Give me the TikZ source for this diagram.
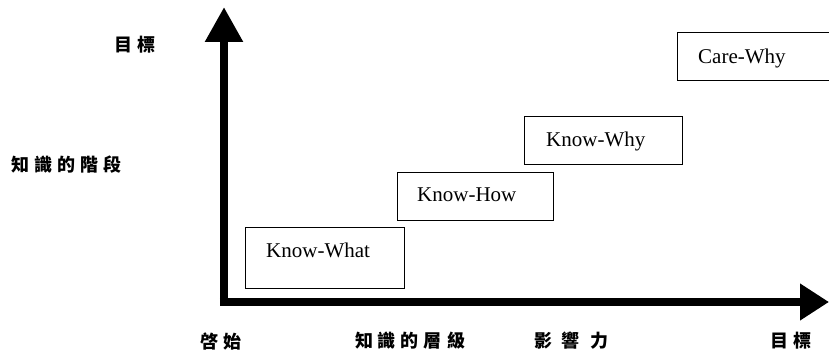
\documentclass[tikz,border=0pt]{standalone}
\usepackage{fontspec}
\setmainfont{Liberation Serif}
\newfontfamily\cjk{Noto Sans CJK TC}
\usetikzlibrary{arrows.meta}
\begin{document}
\begin{tikzpicture}[x=1pt,y=-1pt,
  box/.style={draw=black, line width=1.3pt, rectangle, inner sep=0pt},
  lbl/.style={font=\fontsize{21}{24}\selectfont, inner sep=0pt, anchor=west},
  cj/.style={font=\cjk\bfseries\fontsize{18}{20}\selectfont, inner sep=0pt},
  axis/.style={line width=8.5pt, line join=miter}]
\useasboundingbox (0,0) rectangle (829,355);
% axes
\coordinate (O) at (224,302);
\coordinate (Ytop) at (224,7);
\coordinate (Xend) at (829,302);
\draw[axis, -{Triangle[length=35pt,width=36pt]}] (O) -- (Ytop);
\draw[axis, -{Triangle[length=29pt,width=35pt]}] ([xshift=-4.25pt]O) -- (Xend);
% boxes
\node[box, minimum width=159pt, minimum height=61pt, anchor=north west] (kwhat) at (245,227) {};
\node[lbl] (tkwhat) at (266,250) {Know-What};
\node[box, minimum width=156pt, minimum height=48pt, anchor=north west] (khow) at (397,172) {};
\node[lbl] (tkhow) at (417,195) {Know-How};
\node[box, minimum width=158pt, minimum height=48pt, anchor=north west] (kwhy) at (524,116) {};
\node[lbl] (tkwhy) at (546,141) {Know-Why};
\node[box, minimum width=160pt, minimum height=48pt, anchor=north west] (cwhy) at (677,32) {};
\node[lbl] (tcwhy) at (698,58) {Care-Why};
% labels
\node[cj] (ygoal) at (135,45) {目\hspace{5pt}標};
\node[cj] (ystage) at (67,165) {知\hspace{5pt}識\hspace{5pt}的\hspace{5pt}階\hspace{5pt}段};
\node[cj] (xstart) at (221,341) {啓\hspace{6pt}始};
\node[cj] (xlevel) at (410,341) {知\hspace{5pt}識\hspace{5pt}的\hspace{5pt}層\hspace{5pt}級};
\node[cj] (ximpact) at (571,341) {影\hspace{10pt}響\hspace{10pt}力};
\node[cj] (xgoal) at (791,341) {目\hspace{5pt}標};
\end{tikzpicture}
\end{document}
